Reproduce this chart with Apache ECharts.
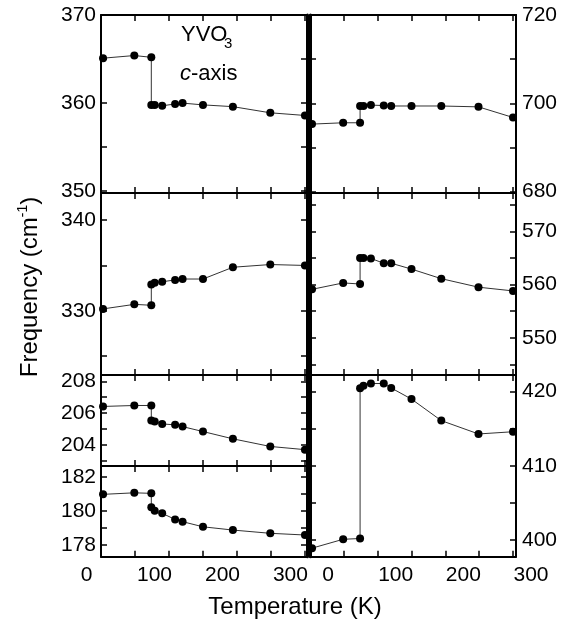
<!DOCTYPE html>
<html><head><meta charset="utf-8">
<script src="https://cdn.jsdelivr.net/npm/echarts@6/dist/echarts.min.js"></script>
<style>html,body{margin:0;padding:0;background:#fff}#c{width:569px;height:624px}</style>
</head><body><div id="c"></div>
<script>
// Temperatures (K); the two 74 K entries are the two sides of the jump
const temps = [3, 49, 74, 74, 79, 90, 109, 120, 150, 194, 249, 300];

// Phonon frequencies (cm^-1), left column (top to bottom)
const mode360 = [365.1, 365.4, 365.2, 359.8, 359.8, 359.7, 359.9, 360.0, 359.8, 359.6, 358.9, 358.6];
const mode330 = [330.2, 330.7, 330.6, 332.9, 333.1, 333.2, 333.4, 333.5, 333.5, 334.8, 335.1, 335.0];
const mode206 = [206.42, 206.48, 206.48, 205.53, 205.47, 205.32, 205.26, 205.15, 204.84, 204.38, 203.9, 203.7];
const mode180 = [180.97, 181.06, 181.03, 180.21, 180.01, 179.86, 179.5, 179.37, 179.07, 178.88, 178.69, 178.59];
// right column (top to bottom)
const mode700 = [695.3, 695.6, 695.6, 699.4, 699.4, 699.6, 699.5, 699.4, 699.4, 699.4, 699.2, 696.8];
const mode560 = [559.1, 560.3, 560.1, 565.0, 565.0, 564.9, 564.0, 564.0, 562.9, 561.1, 559.5, 558.8];
const mode410 = [398.9, 400.1, 400.2, 420.45, 420.8, 421.1, 421.1, 420.5, 419.0, 416.1, 414.3, 414.6];

// Tick values and tick labels
const xTicks = [0, 50, 100, 150, 200, 250, 300];
const xTickLabels = [0, 100, 200, 300];
const ticks360 = [350, 355, 360, 365, 370];   const labels360 = [350, 360, 370];
const ticks330 = [325, 330, 335, 340];        const labels330 = [330, 340];
const ticks206 = [203, 204, 205, 206, 207, 208]; const labels206 = [204, 206, 208];
const ticks180 = [178, 179, 180, 181, 182];   const labels180 = [178, 180, 182];
const ticks700 = [680, 690, 700, 710, 720];   const labels700 = [680, 700, 720];
const ticks560 = [545, 550, 555, 560, 565, 570, 575]; const labels560 = [550, 560, 570];
const ticks410 = [400, 405, 410, 415, 420];   const labels410 = [400, 410, 420];

const FONT = '"Liberation Sans", Arial, Helvetica, sans-serif';

const panels = [
  {col:0, top:15,  h:178,   min:349.8,  max:370,    vals:mode360, ticks:ticks360, labels:labels360},
  {col:0, top:193, h:182,   min:322.9,  max:343.0,  vals:mode330, ticks:ticks330, labels:labels330},
  {col:0, top:375, h:91,    min:202.67, max:208.4,  vals:mode206, ticks:ticks206, labels:labels206},
  {col:0, top:466, h:90.7,  min:177.32, max:182.63, vals:mode180, ticks:ticks180, labels:labels180},
  {col:1, top:15,  h:178,   min:679.7,  max:720,    vals:mode700, ticks:ticks700, labels:labels700},
  {col:1, top:193, h:182,   min:543.0,  max:577.2,  vals:mode560, ticks:ticks560, labels:labels560},
  {col:1, top:375, h:181.7, min:397.75, max:422.25, vals:mode410, ticks:ticks410, labels:labels410}
];
const XMAX = [303, 304.4];
const COL_LEFT = [101, 310];
const COL_W = 206;
const AXIS_BOTTOM = 556.7;
const LABEL_SHIFT = [-14.5, 18];   // the original's x tick labels sit off their ticks
const LABEL_PAD = 10;              // label axes start a little below 0 K
const LABEL_MARGIN = 8;

const grids = [], xAxes = [], yAxes = [], series = [];
const lbl = {fontSize: 21, fontFamily: FONT, color: '#000', showMinLabel: true, showMaxLabel: true};
panels.forEach((p, i) => {
  const xmax = XMAX[p.col];
  grids.push({left: COL_LEFT[p.col], top: p.top, width: COL_W, height: p.h});
  const tick = (vals) => ({show: true, inside: true, length: 6, customValues: vals, lineStyle: {color: '#000', width: 1.5}});
  const line = (w) => ({show: true, onZero: false, lineStyle: {color: '#000', width: w}});
  xAxes.push({gridIndex: i, type: 'value', position: 'bottom', min: 0, max: xmax,
    axisLine: line(2), axisTick: tick(xTicks), axisLabel: {show: false}, splitLine: {show: false}});
  xAxes.push({gridIndex: i, type: 'value', position: 'top', min: 0, max: xmax,
    axisLine: line(2), axisTick: tick(xTicks), axisLabel: {show: false}, splitLine: {show: false}});
  yAxes.push({gridIndex: i, type: 'value', position: 'left', min: p.min, max: p.max,
    axisLine: line(p.col === 1 ? 3 : 2), axisTick: tick(p.ticks),
    axisLabel: Object.assign({show: p.col === 0, customValues: p.labels, margin: 5}, lbl),
    splitLine: {show: false}});
  yAxes.push({gridIndex: i, type: 'value', position: 'right', min: p.min, max: p.max,
    axisLine: line(p.col === 0 ? 3 : 2), axisTick: tick(p.ticks),
    axisLabel: Object.assign({show: p.col === 1, customValues: p.labels, margin: 6}, lbl),
    splitLine: {show: false}});
  series.push({type: 'line', xAxisIndex: 2 * i, yAxisIndex: 2 * i,
    data: temps.map((t, k) => [t, p.vals[k]]),
    symbol: 'circle', symbolSize: 8, itemStyle: {color: '#000'},
    lineStyle: {color: '#333', width: 1}, clip: false, z: 3, silent: true});
});
// label-only temperature axes for the two columns (same scale, shifted as in the original)
const labelGridLeft = [];
[0, 1].forEach((c) => {
  const gi = grids.length;
  const scale = COL_W / XMAX[c];
  const gl = COL_LEFT[c] + LABEL_SHIFT[c] - LABEL_PAD * scale;
  labelGridLeft.push(gl);
  grids.push({left: gl, top: 466, width: (XMAX[c] + LABEL_PAD) * scale, height: AXIS_BOTTOM - 466});
  // right column: its first label ("0") is drawn separately below, as the axis hides it
  const vals = c === 0 ? xTickLabels : xTickLabels.slice(1);
  xAxes.push({gridIndex: gi, type: 'value', position: 'bottom', min: -LABEL_PAD, max: XMAX[c],
    axisLine: {show: false}, axisTick: {show: false}, splitLine: {show: false},
    axisLabel: Object.assign({show: true, customValues: vals, margin: LABEL_MARGIN}, lbl)});
  yAxes.push({gridIndex: gi, type: 'value', show: false, min: 0, max: 1});
});
// position of the right column's first temperature label on its label scale
const rightScale = COL_W / XMAX[1];
const rightZeroX = labelGridLeft[1] + (xTickLabels[0] + LABEL_PAD) * rightScale;

const chart = echarts.init(document.getElementById('c'), null, {renderer: 'canvas'});
chart.setOption({
  animation: false,
  backgroundColor: '#fff',
  grid: grids, xAxis: xAxes, yAxis: yAxes, series: series,
  graphic: [
    {type: 'text', x: 181, y: 35, style: {text: 'YVO', fontSize: 22, fontFamily: FONT, fill: '#000', textAlign: 'left', textVerticalAlign: 'middle'}},
    {type: 'text', x: 224, y: 44, style: {text: '3', fontSize: 15, fontFamily: FONT, fill: '#000', textAlign: 'left', textVerticalAlign: 'middle'}},
    {type: 'text', x: 180, y: 74, style: {text: '{i|c}-axis', fontSize: 22, fontFamily: FONT, fill: '#000', textAlign: 'left', textVerticalAlign: 'middle',
      rich: {i: {fontStyle: 'italic', fontSize: 22, fontFamily: FONT, fill: '#000'}}}},
    {type: 'text', z: 100, x: rightZeroX, y: AXIS_BOTTOM + LABEL_MARGIN,
      style: {text: String(xTickLabels[0]), fontSize: 21, fontFamily: FONT, fill: '#000', textAlign: 'center', textVerticalAlign: 'top'}},
    {type: 'text', x: 295, y: 607, style: {text: 'Temperature (K)', fontSize: 24, fontFamily: FONT, fill: '#000', textAlign: 'center', textVerticalAlign: 'middle'}},
    {type: 'text', x: 30, y: 287, rotation: Math.PI / 2,
      style: {text: 'Frequency (cm{sup|-1})', fontSize: 24, fontFamily: FONT, fill: '#000', textAlign: 'center', textVerticalAlign: 'middle', lineHeight: 28,
        rich: {sup: {fontSize: 14, fontFamily: FONT, fill: '#000', verticalAlign: 'top', lineHeight: 28}}}}
  ]
});
</script>
</body></html>
